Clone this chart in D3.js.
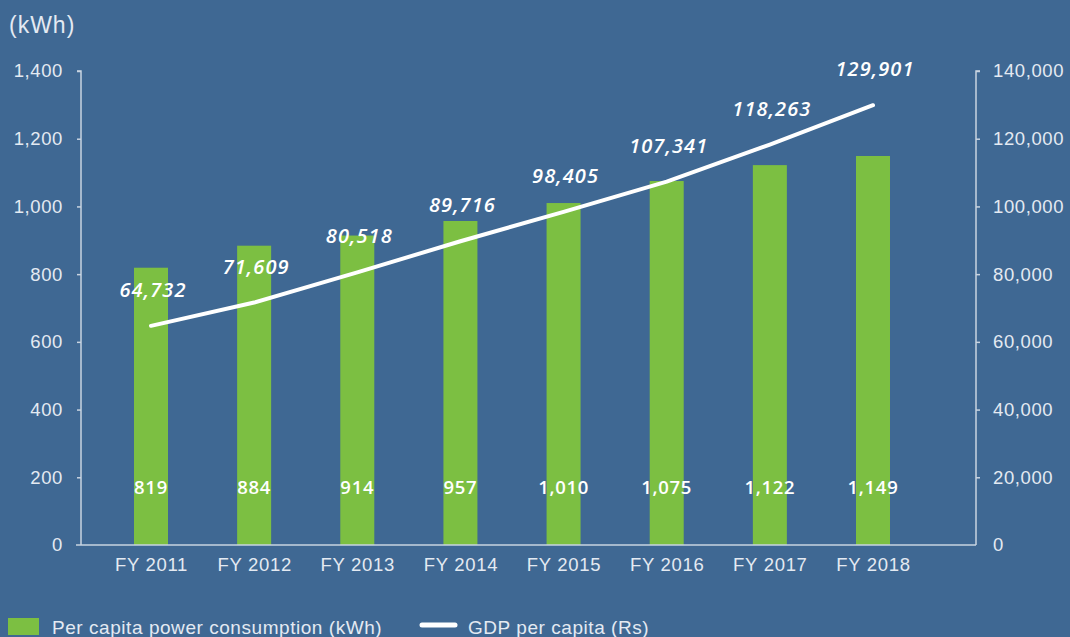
<!DOCTYPE html>
<html><head><meta charset="utf-8">
<script src="https://cdn.jsdelivr.net/npm/d3@7"></script>
<style>
html,body{margin:0;padding:0;background:#3f6893;}
svg{display:block;}
</style></head>
<body>
<svg id="chart" width="1070" height="637"></svg>
<script>
const categories = ["FY 2011","FY 2012","FY 2013","FY 2014","FY 2015","FY 2016","FY 2017","FY 2018"];
const consumption = [819, 884, 914, 957, 1010, 1075, 1122, 1149];
const gdp = [64732, 71609, 80518, 89716, 98405, 107341, 118263, 129901];
const leftTicks = [0, 200, 400, 600, 800, 1000, 1200, 1400];
const rightTicks = [0, 20000, 40000, 60000, 80000, 100000, 120000, 140000];
const legendLabels = ["Per capita power consumption (kWh)", "GDP per capita (Rs)"];

const svg = d3.select("#chart");
const bg = "#3f6893", green = "#7cbf42", axisCol = "#c9d4e1", textCol = "#e4eaf2";
const sans = "Liberation Sans, Arial, sans-serif";
svg.append("rect").attr("width",1070).attr("height",637).attr("fill",bg);

const x = d3.scalePoint().domain(categories).range([151, 873]);
const barW = 34;
const yL = d3.scaleLinear().domain([0,1400]).range([545,71]);
const yR = d3.scaleLinear().domain([0,140000]).range([545,71]);
const fmt = d3.format(",");

// bars
svg.append("g").selectAll("rect").data(consumption).join("rect")
  .attr("x",(d,i)=>x(categories[i])-barW/2)
  .attr("y",d=>yL(d))
  .attr("width",barW)
  .attr("height",d=>yL(0)-yL(d))
  .attr("fill",green);

// axes
const gL = svg.append("g").attr("transform","translate(81,0)")
  .call(d3.axisLeft(yL).tickValues(leftTicks).tickFormat(fmt).tickSize(4).tickPadding(14));
const gR = svg.append("g").attr("transform","translate(976,0)")
  .call(d3.axisRight(yR).tickValues(rightTicks).tickFormat(fmt).tickSize(4).tickPadding(13));
[gL,gR].forEach(g=>{
  g.select(".domain").attr("stroke",axisCol).attr("stroke-width",1.5)
   .attr("d", g===gL ? "M-4,71H0V545" : "M4,71H0V545");
  g.selectAll(".tick line").attr("stroke",axisCol).attr("stroke-width",1.5);
  g.selectAll(".tick text").attr("fill",textCol).attr("font-family",sans)
   .attr("font-size",18.5).attr("letter-spacing",0.6);
});
gL.selectAll(".tick").filter(d=>d===0).select("line").remove();
gR.selectAll(".tick").filter(d=>d===0).select("line").remove();

// x baseline
svg.append("line").attr("x1",76).attr("x2",976).attr("y1",yL(0)).attr("y2",yL(0))
  .attr("stroke",axisCol).attr("stroke-width",1.5);
const gX = svg.append("g").attr("transform","translate(0,545)")
  .call(d3.axisBottom(x).tickSize(0).tickPadding(13));
gX.select(".domain").remove();
gX.selectAll(".tick text").attr("fill",textCol).attr("font-family",sans)
  .attr("font-size",18.5).attr("letter-spacing",0.7);

// unit label
svg.append("text").attr("x",9).attr("y",33).text("(kWh)")
  .attr("fill",textCol).attr("font-family",sans).attr("font-size",23).attr("letter-spacing",1);

// bar value labels
svg.append("g").selectAll("text").data(consumption).join("text")
  .attr("x",(d,i)=>x(categories[i])).attr("y",494)
  .attr("text-anchor","middle").attr("fill","#ffffff")
  .attr("font-family","Open Sans, sans-serif").attr("font-weight",600).attr("font-size",18.5)
  .attr("letter-spacing",0.7)
  .text(d=>fmt(d));

// GDP line
const line = d3.line().x((d,i)=>x(categories[i])).y(d=>yR(d));
svg.append("path").datum(gdp).attr("d",line).attr("fill","none")
  .attr("stroke","#ffffff").attr("stroke-width",4).attr("stroke-linecap","round").attr("stroke-linejoin","round");

// GDP labels
svg.append("g").selectAll("text").data(gdp).join("text")
  .attr("x",(d,i)=>x(categories[i])+2).attr("y",d=>yR(d)-29)
  .attr("text-anchor","middle").attr("fill","#ffffff")
  .attr("font-family","Open Sans, sans-serif").attr("font-style","italic").attr("font-weight",600).attr("font-size",20)
  .attr("letter-spacing",1.1)
  .text(d=>fmt(d));

// legend
svg.append("rect").attr("x",8).attr("y",618).attr("width",31).attr("height",17).attr("fill",green);
svg.append("text").attr("x",52).attr("y",634).text(legendLabels[0])
  .attr("fill",textCol).attr("font-family",sans).attr("font-size",19).attr("letter-spacing",0.55);
svg.append("line").attr("x1",422).attr("x2",455).attr("y1",625).attr("y2",625)
  .attr("stroke","#ffffff").attr("stroke-width",5).attr("stroke-linecap","round");
svg.append("text").attr("x",468).attr("y",634).text(legendLabels[1])
  .attr("fill",textCol).attr("font-family",sans).attr("font-size",19).attr("letter-spacing",0.55);
</script>
</body></html>
